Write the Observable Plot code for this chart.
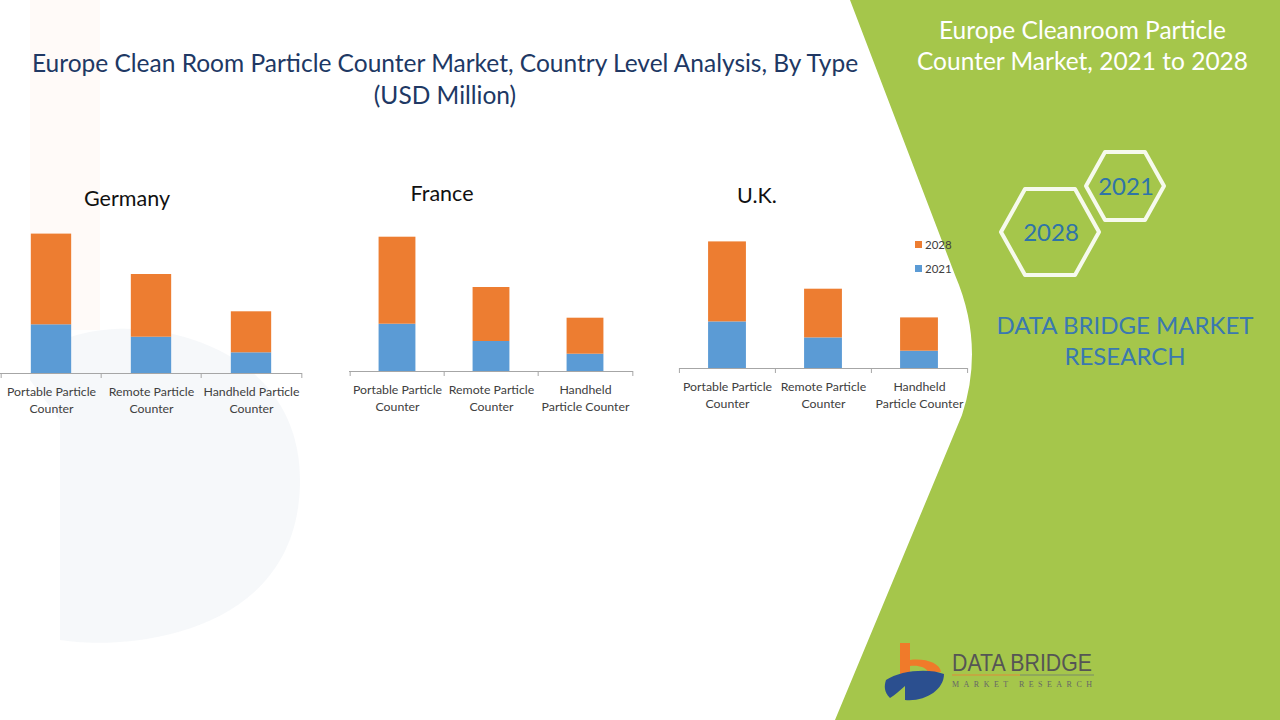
<!DOCTYPE html>
<html>
<head>
<meta charset="utf-8">
<script src="https://cdn.jsdelivr.net/npm/d3@7"></script>
<script src="https://cdn.jsdelivr.net/npm/@observablehq/plot@0.6"></script>
<style>
  html, body { margin: 0; padding: 0; background: #fff; }
  #page { position: relative; width: 1280px; height: 720px; overflow: hidden; background: #fff; font-family: Lato, "Open Sans", sans-serif; }
  .abs { position: absolute; }
  .title { left: 0; width: 890px; top: 47px; text-align: center; color: #203864; font-size: 24.5px; line-height: 32px; }
  .country { font-size: 21.5px; color: #111; transform: translateX(-50%); white-space: nowrap; }
  .side-title { left: 905px; width: 355px; top: 14px; text-align: center; color: #fff; font-size: 24.5px; line-height: 31px; }
  .dbmr { left: 975px; width: 300px; top: 309px; text-align: center; color: #3a78b0; font-size: 24px; line-height: 31px; }
  .legend { left: 915px; font-size: 11.5px; color: #404040; }
  .legend span.sw { display: inline-block; width: 7px; height: 7px; margin-right: 3px; vertical-align: 1px; }
</style>
</head>
<body>
<div id="page">
  <svg class="abs" style="left:0;top:0" width="1280" height="720">
    <!-- faint background watermark shapes -->
    <rect x="30" y="0" width="70" height="330" fill="#f26d21" opacity="0.03"/>
    <path d="M30,380 C30,300 300,300 300,480 C300,640 120,650 60,640 L60,420 Z" fill="#dde2ec" opacity="0.25"/>
    <!-- green panel -->
    <path d="M850,0 L955,275 Q985,345 962,415 L835,720 L1280,720 L1280,0 Z" fill="#a5c64b"/>
    <!-- hexagons -->
    <polygon points="1001,232 1025,189 1075,189 1099,232 1075,275 1025,275" fill="none" stroke="#fff" stroke-width="4" stroke-linejoin="round" opacity="0.9"/>
    <polygon points="1086,186 1105,152 1145,152 1164,186 1145,220 1105,220" fill="none" stroke="#fff" stroke-width="4" stroke-linejoin="round" opacity="0.9"/>
    <text x="1051" y="241" text-anchor="middle" font-family="Lato" font-size="24" fill="#2f74a8">2028</text>
    <text x="1126" y="195" text-anchor="middle" font-family="Lato" font-size="24" fill="#2f74a8">2021</text>
    <!-- logo -->
    <path d="M900,643 L910,643 L910,660 C925,658 940,663 941,672 L928,672 C926,667 918,665 910,666 L910,676 L900,676 Z" fill="#f07a2a"/>
    <path d="M886,680 C900,670 930,668 944,674 C944,690 925,702 905,700 L905,686 C900,690 895,695 890,698 C884,692 884,686 886,680 Z" fill="#2b4f8f"/>
    <text x="952" y="671" font-family="'Liberation Sans Narrow', 'Liberation Sans', sans-serif" font-size="24" fill="#555" textLength="140" lengthAdjust="spacingAndGlyphs">DATA BRIDGE</text>
    <line x1="952" y1="675" x2="1020" y2="675" stroke="#e08a3a" stroke-width="1.2"/>
    <line x1="1020" y1="675" x2="1094" y2="675" stroke="#7a8a6a" stroke-width="1.2"/>
    <text x="952" y="687" font-family="serif" font-size="8" fill="#666" textLength="140" lengthAdjust="spacing">MARKET  RESEARCH</text>
  </svg>

  <div class="abs title">Europe Clean Room Particle Counter Market, Country Level Analysis, By Type<br>(USD Million)</div>
  <div class="abs side-title">Europe Cleanroom Particle<br>Counter Market, 2021 to 2028</div>
  <div class="abs dbmr">DATA BRIDGE MARKET<br>RESEARCH</div>

  <div class="abs country" style="left:127px;top:185px">Germany</div>
  <div class="abs country" style="left:442px;top:180px">France</div>
  <div class="abs country" style="left:757px;top:182px">U.K.</div>

  <div class="abs legend" style="top:238px"><span class="sw" style="background:#ED7D31"></span>2028</div>
  <div class="abs legend" style="top:262px"><span class="sw" style="background:#5B9BD5"></span>2021</div>

  <div id="germany" class="abs"></div>
  <div id="france" class="abs"></div>
  <div id="uk" class="abs"></div>
</div>
<script>
// ---- data (relative bar heights; no value axis is shown) ----
const categories = ["Portable Particle Counter", "Remote Particle Counter", "Handheld Particle Counter"];
const years = ["2021", "2028"];
const germanyLabels = ["Portable Particle\nCounter", "Remote Particle\nCounter", "Handheld Particle\nCounter"];
const otherLabels = ["Portable Particle\nCounter", "Remote Particle\nCounter", "Handheld\nParticle Counter"];
const germany2021 = [48.7, 36.3, 20.7];
const germany2028 = [90.7, 62.7, 41.0];
const france2021 = [47.3, 30.0, 17.3];
const france2028 = [87.0, 54.0, 36.0];
const uk2021 = [46.6, 30.6, 17.3];
const uk2028 = [80.0, 48.7, 33.3];

function rowsFrom(v2021, v2028) {
  const rows = [];
  categories.forEach((c, i) => rows.push({category: c, year: "2021", value: v2021[i]}));
  categories.forEach((c, i) => rows.push({category: c, year: "2028", value: v2028[i]}));
  return rows;
}

function drawChart(id, left, top, axisWidth, barWidth, v2021, v2028, labels) {
  const ml = 2, mr = 2;
  const step = axisWidth / categories.length;
  const inset = (step - barWidth) / 2;
  const plotH = 150;
  const chart = Plot.plot({
    width: axisWidth + ml + mr,
    height: plotH + 55,
    marginLeft: ml, marginRight: mr, marginTop: 0, marginBottom: 55,
    style: {fontFamily: "Lato, 'Open Sans', sans-serif", background: "transparent", overflow: "visible"},
    x: {domain: categories, padding: 0, axis: null},
    y: {domain: [0, plotH], axis: null},
    color: {domain: years, range: ["#5B9BD5", "#ED7D31"]},
    marks: [
      Plot.barY(rowsFrom(v2021, v2028), {x: "category", y: "value", fill: "year", insetLeft: inset, insetRight: inset}),
      Plot.ruleY([0], {stroke: "#a6a6a6", strokeWidth: 1}),
      Plot.ruleX(categories, {x: d => d, dx: -step / 2, y1: 0, y2: -5, stroke: "#a6a6a6"}),
      Plot.ruleX([categories[categories.length - 1]], {x: d => d, dx: step / 2, y1: 0, y2: -5, stroke: "#a6a6a6"}),
      Plot.text(categories, {x: d => d, y: 0, text: (d, i) => labels[i], dy: 10, lineAnchor: "top", lineHeight: 1.38, fontSize: 12.3, fill: "#404040"})
    ]
  });
  const el = document.getElementById(id);
  el.style.left = (left - ml) + "px";
  el.style.top = (top - plotH) + "px";
  el.appendChild(chart);
}

drawChart("germany", 0, 373, 302, 41, germany2021, germany2028, germanyLabels);
drawChart("france", 349, 371, 284, 37.5, france2021, france2028, otherLabels);
drawChart("uk", 679, 368, 288.5, 38, uk2021, uk2028, otherLabels);
</script>
</body>
</html>
